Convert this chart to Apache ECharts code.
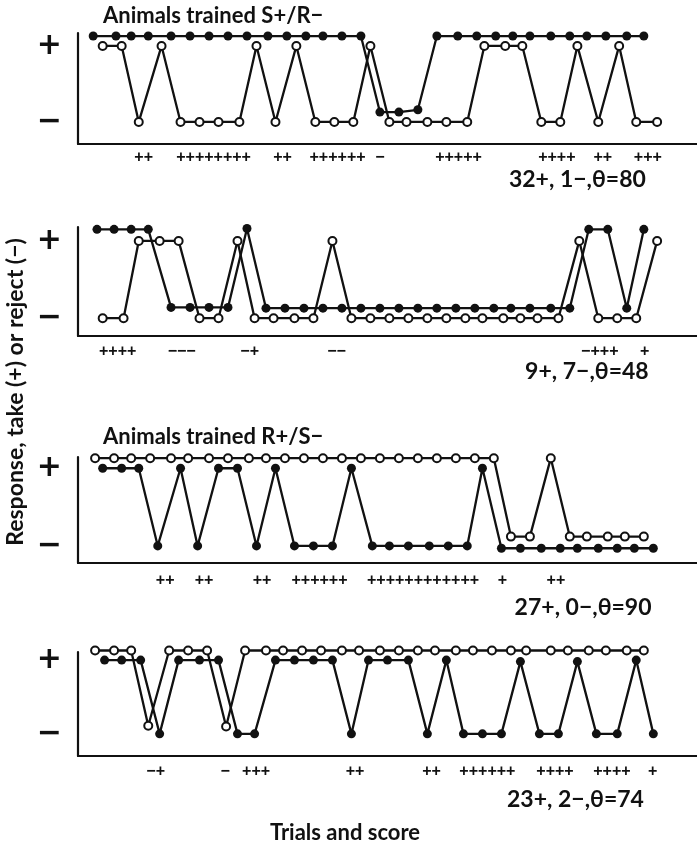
<!DOCTYPE html>
<html>
<head>
<meta charset="utf-8">
<script src="https://cdn.jsdelivr.net/npm/echarts@6/dist/echarts.min.js"></script>
<style>
  html, body { margin: 0; padding: 0; background: #fff; }
  #grid { width: 697px; height: 845px; }
</style>
</head>
<body>
<div id="grid"></div>
<script>
// x = trial position, y: 1 = take (+), 0 = reject (-), small offsets as drawn
const p1ClosedX = [1.0, 2.2, 3.0, 3.9, 5.1, 6.1, 7.1, 8.1, 9.1, 10.2, 11.2, 12.2, 13.1, 14.1, 15.1, 16.1, 17.1, 18.1, 19.1, 20.2, 21.2, 22.2, 23.1, 24.0, 25.1, 26.1, 27.0, 28.0, 29.1, 30.0];
const p1ClosedY = [1.13, 1.13, 1.13, 1.13, 1.13, 1.13, 1.13, 1.13, 1.13, 1.13, 1.13, 1.13, 1.13, 1.13, 1.13, 0.13, 0.13, 0.16, 1.13, 1.13, 1.13, 1.13, 1.13, 1.13, 1.13, 1.13, 1.13, 1.13, 1.13, 1.13];
const p1OpenX = [1.5, 2.5, 3.4, 4.6, 5.6, 6.6, 7.6, 8.7, 9.6, 10.6, 11.7, 12.7, 13.7, 14.7, 15.6, 16.6, 17.5, 18.6, 19.6, 20.7, 21.6, 22.7, 23.6, 24.6, 25.6, 26.5, 27.6, 28.7, 29.6, 30.7];
const p1OpenY = [1, 1, 0, 1, 0, 0, 0, 0, 1, 0, 1, 0, 0, 0, 1, 0, 0, 0, 0, 0, 1, 1, 1, 0, 0, 1, 0, 1, 0, 0];

const p2ClosedX = [1.2, 2.1, 3.0, 3.9, 5.1, 6.1, 7.1, 8.1, 9.1, 10.1, 11.1, 12.1, 13.1, 14.1, 15.1, 16.1, 17.1, 18.1, 19.1, 20.1, 21.1, 22.1, 23.0, 24.0, 25.1, 26.1, 27.1, 28.1, 29.1, 30.0];
const p2ClosedY = [1.15, 1.15, 1.15, 1.15, 0.14, 0.14, 0.14, 0.14, 1.16, 0.13, 0.13, 0.13, 0.13, 0.13, 0.13, 0.13, 0.13, 0.13, 0.13, 0.13, 0.13, 0.13, 0.13, 0.13, 0.13, 0.13, 1.15, 1.15, 0.13, 1.15];
const p2OpenX = [1.5, 2.6, 3.4, 4.5, 5.5, 6.6, 7.6, 8.6, 9.5, 10.5, 11.6, 12.6, 13.6, 14.6, 15.6, 16.6, 17.6, 18.6, 19.6, 20.6, 21.5, 22.6, 23.5, 24.4, 25.5, 26.6, 27.6, 28.6, 29.6, 30.7];
const p2OpenY = [0, 0, 1, 1, 1, 0, 0, 1, 0, 0, 0, 0, 1, 0, 0, 0, 0, 0, 0, 0, 0, 0, 0, 0, 0, 1, 0, 0, 0, 1];

const p3ClosedX = [1.5, 2.5, 3.4, 4.4, 5.6, 6.5, 7.6, 8.6, 9.6, 10.6, 11.6, 12.6, 13.6, 14.6, 15.7, 16.6, 17.6, 18.7, 19.7, 20.7, 21.5, 22.5, 23.5, 24.6, 25.6, 26.5, 27.6, 28.6, 29.5, 30.5];
const p3ClosedY = [1, 1, 1, 0, 1, 0, 1, 1, 0, 1, 0, 0, 0, 1, 0, 0, 0, 0, 0, 0, 1, -0.03, -0.03, -0.03, -0.03, -0.03, -0.03, -0.03, -0.03, -0.03];
const p3OpenX = [1.1, 2.1, 3.0, 4.0, 5.1, 6.0, 7.1, 8.1, 9.2, 10.1, 11.1, 12.1, 13.1, 14.1, 15.1, 16.1, 17.1, 18.1, 19.1, 20.1, 21.1, 22.1, 23.0, 24.0, 25.1, 26.1, 27.0, 28.1, 29.0, 30.0];
const p3OpenY = [1.13, 1.13, 1.13, 1.13, 1.13, 1.13, 1.13, 1.13, 1.13, 1.13, 1.13, 1.13, 1.13, 1.13, 1.13, 1.13, 1.13, 1.13, 1.13, 1.13, 1.13, 1.13, 0.12, 0.12, 1.13, 0.12, 0.12, 0.12, 0.12, 0.12];

const p4ClosedX = [1.6, 2.5, 3.5, 4.5, 5.5, 6.6, 7.6, 8.6, 9.5, 10.6, 11.6, 12.6, 13.6, 14.6, 15.5, 16.5, 17.6, 18.6, 19.6, 20.5, 21.5, 22.5, 23.5, 24.5, 25.5, 26.5, 27.5, 28.6, 29.6, 30.5];
const p4ClosedY = [1, 1, 1, 0, 1, 1, 1, 0, 0, 1, 1, 1, 1, 0, 1, 1, 1, 0, 1, 0, 0, 0, 0.98, 0, 0, 0.98, 0, 0, 1, 0];
const p4OpenX = [1.1, 2.1, 3.0, 3.9, 5.0, 6.0, 7.0, 8.0, 9.0, 10.1, 11.0, 12.0, 13.0, 14.1, 15.0, 16.1, 17.1, 18.1, 19.0, 20.1, 21.0, 22.0, 23.0, 23.8, 25.1, 26.0, 27.1, 28.0, 29.1, 30.0];
const p4OpenY = [1.13, 1.13, 1.13, 0.11, 1.13, 1.13, 1.13, 0.1, 1.13, 1.13, 1.13, 1.13, 1.13, 1.13, 1.13, 1.13, 1.13, 1.13, 1.13, 1.13, 1.13, 1.13, 1.13, 1.13, 1.13, 1.13, 1.13, 1.13, 1.13, 1.13];

// score rows under each panel: [trial position of group centre, marks]
const p1Score = [[3.66, '++'], [7.34, '++++++++'], [10.97, '++'], [13.87, '++++++'], [16.1, '−'], [20.24, '+++++'], [25.42, '++++'], [27.84, '++'], [30.21, '+++']];
const p2Score = [[2.29, '++++'], [5.66, '−−−'], [9.24, '−+'], [13.82, '−−'], [27.68, '−+++'], [30.05, '+']];
const p3Score = [[4.79, '++'], [6.84, '++'], [9.89, '++'], [12.92, '++++++'], [18.37, '++++++++++++'], [22.55, '+'], [25.37, '++']];
const p4Score = [[4.29, '−+'], [7.95, '−'], [9.58, '+++'], [14.79, '++'], [18.82, '++'], [21.76, '++++++'], [25.32, '++++'], [28.32, '++++'], [30.47, '+']];

const summaries = [[26.5, '32+, 1−,θ=80'], [27.0, '9+, 7−,θ=48'], [26.8, '27+, 0−,θ=90'], [26.4, '23+, 2−,θ=74']];
const titles = ['Animals trained S+/R−', '', 'Animals trained R+/S−', ''];
const yTickValues = [0, 1];

const panels = [
  { closedX: p1ClosedX, closedY: p1ClosedY, openX: p1OpenX, openY: p1OpenY, score: p1Score },
  { closedX: p2ClosedX, closedY: p2ClosedY, openX: p2OpenX, openY: p2OpenY, score: p2Score },
  { closedX: p3ClosedX, closedY: p3ClosedY, openX: p3OpenX, openY: p3OpenY, score: p3Score },
  { closedX: p4ClosedX, closedY: p4ClosedY, openX: p4OpenX, openY: p4OpenY, score: p4Score },
];

// layout of the four panels (pixels) and y ranges
const layout = [
  { top: 33, height: 111, yMin: -0.29, yMax: 1.17, scoreDy: 14, sumDy: 36, titleY: 16 },
  { top: 227, height: 109, yMin: -0.23, yMax: 1.18, scoreDy: 16, sumDy: 36, titleY: 0 },
  { top: 457, height: 106, yMin: -0.22, yMax: 1.145, scoreDy: 18, sumDy: 45, titleY: 437 },
  { top: 652, height: 104, yMin: -0.3, yMax: 1.11, scoreDy: 16, sumDy: 44, titleY: 0 },
];

const textFont = 'Lato, "Open Sans", sans-serif';
const myChart = echarts.init(document.getElementById('grid'));

const option = {
  animation: false,
  backgroundColor: '#fff',
  grid: [],
  xAxis: [],
  yAxis: [],
  series: [],
};

layout.forEach((l, i) => {
  option.grid.push({ left: 78, right: 0, top: l.top, height: l.height });
  option.xAxis.push({
    type: 'value',
    gridIndex: i,
    min: 0.2,
    max: 32.8,
    axisLine: { show: true, onZero: false, lineStyle: { color: '#111', width: 2.2 } },
    axisTick: { show: false },
    axisLabel: { show: false },
    splitLine: { show: false },
  });
  option.yAxis.push({
    type: 'value',
    gridIndex: i,
    min: l.yMin,
    max: l.yMax,
    axisLine: { show: true, lineStyle: { color: '#111', width: 2.2 } },
    axisTick: { show: false },
    splitLine: { show: false },
    axisLabel: {
      customValues: yTickValues,
      formatter: (v) => (v === 1 ? '+' : '−'),
      color: '#111',
      fontSize: 30,
      fontWeight: 'bold',
      fontFamily: 'DejaVu Sans',
      margin: 16,
    },
  });

  const p = panels[i];
  option.series.push({
    type: 'line',
    xAxisIndex: i,
    yAxisIndex: i,
    data: p.closedX.map((x, k) => [x, p.closedY[k]]),
    symbol: 'circle',
    symbolSize: 9,
    clip: false,
    lineStyle: { color: '#111', width: 2.3 },
    itemStyle: { color: '#111' },
    z: 2,
  });
  option.series.push({
    type: 'line',
    xAxisIndex: i,
    yAxisIndex: i,
    data: p.openX.map((x, k) => [x, p.openY[k]]),
    symbol: 'circle',
    symbolSize: 8,
    clip: false,
    lineStyle: { color: '#111', width: 2.3 },
    itemStyle: { color: '#fff', borderColor: '#111', borderWidth: 2 },
    z: 3,
  });
});

myChart.setOption(option);

function buildTexts() {
  const graphic = [];

  layout.forEach((l, i) => {
    const axisY = myChart.convertToPixel({ yAxisIndex: i }, l.yMin);

    panels[i].score.forEach((s) => {
      graphic.push({
        type: 'text',
        x: myChart.convertToPixel({ xAxisIndex: i }, s[0]),
        y: axisY + l.scoreDy,
        style: {
          text: s[1],
          fill: '#111',
          font: 'bold 16px "Liberation Sans", Arial, sans-serif',
          align: 'center',
          verticalAlign: 'middle',
        },
      });
    });

    graphic.push({
      type: 'text',
      x: myChart.convertToPixel({ xAxisIndex: i }, summaries[i][0]),
      y: axisY + l.sumDy,
      style: {
        text: summaries[i][1],
        fill: '#111',
        font: 'bold 23px ' + textFont,
        align: 'center',
        verticalAlign: 'middle',
      },
    });

    if (titles[i]) {
      graphic.push({
        type: 'text',
        x: 103,
        y: l.titleY,
        style: {
          text: titles[i],
          fill: '#111',
          font: 'bold 22px ' + textFont,
          align: 'left',
          verticalAlign: 'middle',
        },
      });
    }
  });

  graphic.push({
    type: 'text',
    x: 16,
    y: 392,
    rotation: Math.PI / 2,
    style: {
      text: 'Response, take (+) or reject (−)',
      fill: '#111',
      font: 'bold 23px ' + textFont,
      align: 'center',
      verticalAlign: 'middle',
    },
  });

  graphic.push({
    type: 'text',
    x: 345,
    y: 833,
    style: {
      text: 'Trials and score',
      fill: '#111',
      font: 'bold 22px ' + textFont,
      align: 'center',
      verticalAlign: 'middle',
    },
  });

  myChart.setOption({ graphic: graphic });
}

buildTexts();
</script>
</body>
</html>
